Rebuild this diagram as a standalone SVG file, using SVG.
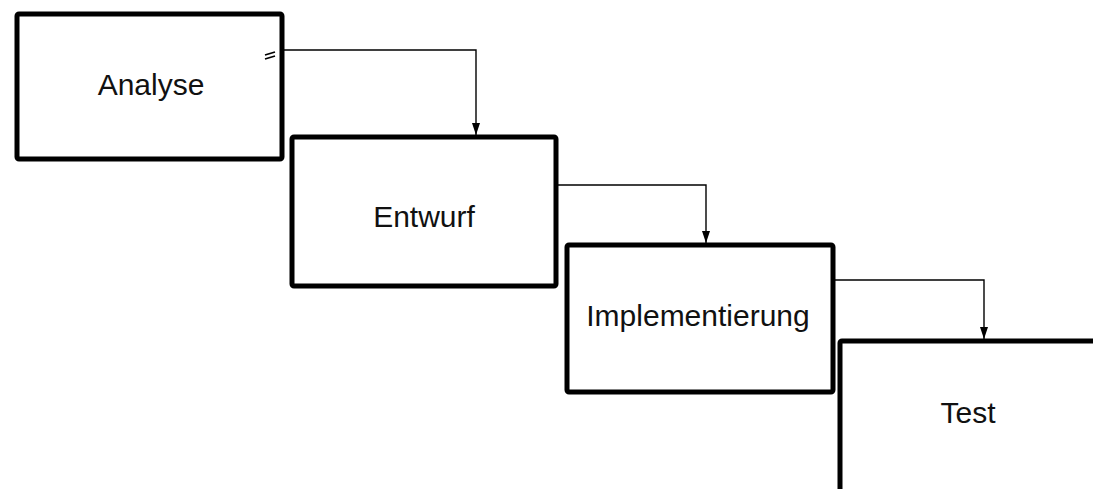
<svg xmlns="http://www.w3.org/2000/svg" width="1093" height="489" viewBox="0 0 1093 489">
<style>
.box{fill:#fff;stroke:#000;stroke-width:5;stroke-linejoin:round}
.lbl{font-family:"Liberation Sans",Arial,sans-serif;font-size:30px;fill:#111;text-anchor:middle}
.con{fill:none;stroke:#000;stroke-width:1.4}
</style>
<defs>
<marker id="arr" viewBox="0 0 12 8" refX="12" refY="4" markerWidth="12" markerHeight="8" markerUnits="userSpaceOnUse" orient="auto">
<path d="M0,0 L12,4 L0,8 Z" fill="#000"/>
</marker>
</defs>
<rect width="1093" height="489" fill="#fff"/>
<g id="analyse">
<rect class="box" x="17" y="14" width="265" height="145" rx="2"/>
<text class="lbl" x="151" y="95">Analyse</text>
</g>
<g id="entwurf">
<rect class="box" x="292" y="137" width="264" height="149" rx="2"/>
<text class="lbl" x="424" y="227">Entwurf</text>
</g>
<g id="implementierung">
<rect class="box" x="567" y="245" width="266" height="147" rx="2"/>
<text class="lbl" x="698" y="326">Implementierung</text>
</g>
<g id="test">
<rect class="box" x="840" y="341" width="270" height="170" rx="2"/>
<text class="lbl" x="968" y="423">Test</text>
</g>
<g id="connectors">
<path class="con" d="M284,50 H476 V135" marker-end="url(#arr)"/>
<path d="M265,55 L275,52 M265,59 L275,56" stroke="#000" stroke-width="1.8" fill="none"/>
<path class="con" d="M558,185 H706 V243" marker-end="url(#arr)"/>
<path class="con" d="M835,280 H984 V339" marker-end="url(#arr)"/>
</g>
</svg>
